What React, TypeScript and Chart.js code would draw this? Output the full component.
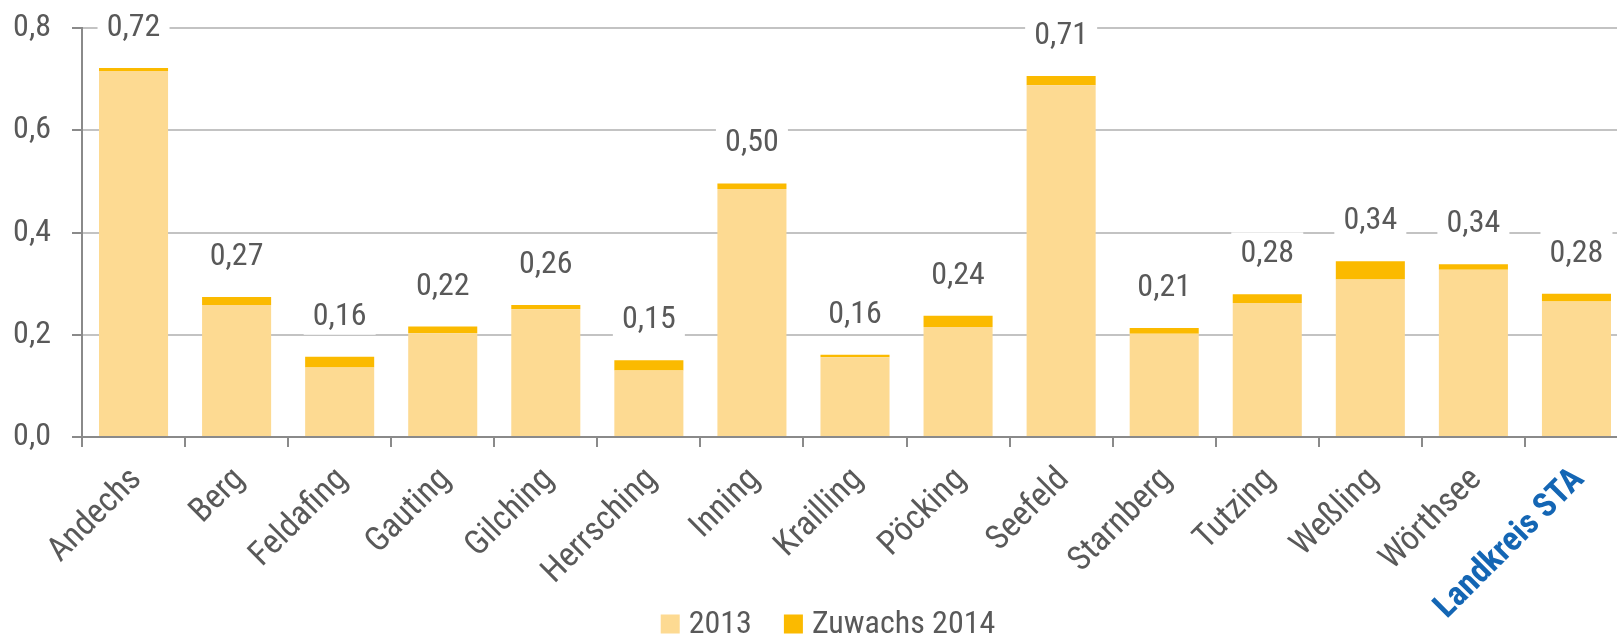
import React, { useEffect, useRef } from "react";
import { Chart, registerables } from "chart.js";

Chart.register(...registerables);

const categories = [
  "Andechs", "Berg", "Feldafing", "Gauting", "Gilching", "Herrsching", "Inning",
  "Krailling", "Pöcking", "Seefeld", "Starnberg", "Tutzing", "Weßling", "Wörthsee", "Landkreis STA",
];
const values2013 = [0.716, 0.258, 0.136, 0.203, 0.25, 0.13, 0.485, 0.156, 0.215, 0.688, 0.202, 0.262, 0.308, 0.327, 0.265];
const zuwachs2014 = [0.006, 0.016, 0.021, 0.013, 0.008, 0.02, 0.011, 0.005, 0.022, 0.018, 0.011, 0.017, 0.036, 0.011, 0.015];
const seriesNames = ["2013", "Zuwachs 2014"];
const yTicks = [0, 0.2, 0.4, 0.6, 0.8];

const FONT = '"Liberation Sans Narrow", "Roboto Condensed", "DejaVu Sans Condensed", "Arial Narrow", sans-serif';
const TEXT = "#595959";
const LIGHT = "#FDDA92";
const DARK = "#FBBA00";
const BLUE = "#1466B4";
const fmt = (v: number, d: number) => v.toFixed(d).replace(".", ",");

const valueLabels = {
  id: "valueLabels",
  afterDatasetsDraw(chart: any) {
    const meta = chart.getDatasetMeta(1);
    const ctx = chart.ctx;
    ctx.save();
    ctx.font = `32px ${FONT}`;
    ctx.textAlign = "center";
    ctx.textBaseline = "alphabetic";
    meta.data.forEach((el: any, i: number) => {
      const total = values2013[i] + zuwachs2014[i];
      const txt = fmt(total, 2);
      const y = el.y - 32;
      ctx.fillStyle = "#ffffff";
      ctx.fillRect(el.x - 36, y - 30, 72, 40);
      ctx.fillStyle = TEXT;
      ctx.fillText(txt, el.x, y);
    });
    ctx.restore();
  },
};

const customLegend = {
  id: "customLegend",
  afterDraw(chart: any) {
    const ctx = chart.ctx;
    ctx.save();
    ctx.font = `32px ${FONT}`;
    ctx.textBaseline = "middle";
    ctx.textAlign = "left";
    const colors = [LIGHT, DARK];
    const box = 19;
    const gapText = 9;
    const gapItem = 32;
    const widths = seriesNames.map((n) => box + gapText + ctx.measureText(n).width);
    const total = widths.reduce((a, b) => a + b, 0) + gapItem * (seriesNames.length - 1);
    let x = 828 - total / 2;
    const cy = 624;
    seriesNames.forEach((n, i) => {
      ctx.fillStyle = colors[i];
      ctx.fillRect(x, cy - box / 2, box, box);
      ctx.fillStyle = TEXT;
      ctx.fillText(n, x + box + gapText, cy + 1);
      x += widths[i] + gapItem;
    });
    ctx.restore();
  },
};

export default function App() {
  const ref = useRef<HTMLCanvasElement | null>(null);
  useEffect(() => {
    if (!ref.current) return;
    const chart = new Chart(ref.current, {
      type: "bar",
      data: {
        labels: categories,
        datasets: [
          {
            label: seriesNames[0],
            data: values2013,
            backgroundColor: LIGHT,
            barPercentage: 0.67,
            categoryPercentage: 1,
          },
          {
            label: seriesNames[1],
            data: zuwachs2014,
            backgroundColor: DARK,
            barPercentage: 0.67,
            categoryPercentage: 1,
          },
        ],
      },
      options: {
        animation: false,
        responsive: false,
        devicePixelRatio: 1,
        layout: { padding: { top: 28, left: 13, right: 12, bottom: 0 } },
        plugins: {
          legend: { display: false },
          tooltip: { enabled: false },
        },
        scales: {
          x: {
            stacked: true,
            border: { color: "#8a8a8a", width: 2 },
            grid: {
              drawOnChartArea: false,
              drawTicks: true,
              tickLength: 10,
              tickColor: "#8a8a8a",
              lineWidth: 2,
            },
            ticks: {
              autoSkip: false,
              minRotation: 45,
              maxRotation: 45,
              padding: 13,
              labelOffset: 3,
              color: (c: any) => (c.index === 14 ? BLUE : TEXT),
              font: (c: any) => ({ family: FONT, size: 34, weight: c.index === 14 ? "bold" : "normal" }),
            },
            afterFit: (s: any) => {
              s.height = 198;
              s.paddingLeft = 0;
              s.paddingRight = 0;
            },
          },
          y: {
            stacked: true,
            min: 0,
            max: 0.8,
            border: { color: "#8a8a8a", width: 2 },
            grid: {
              color: "#c3c3c3",
              lineWidth: 2,
              tickLength: 10,
              tickColor: "#8a8a8a",
            },
            afterBuildTicks: (s: any) => {
              s.ticks = yTicks.map((v) => ({ value: v }));
            },
            ticks: {
              padding: 21,
              color: TEXT,
              font: { family: FONT, size: 32 },
              callback: (v: any) => fmt(Number(v), 1),
            },
            afterFit: (s: any) => {
              s.width = 69;
              s.paddingTop = 0;
              s.paddingBottom = 0;
            },
          },
        },
      },
      plugins: [valueLabels, customLegend],
    });
    return () => chart.destroy();
  }, []);
  return (
    <div style={{ position: "fixed", left: 0, top: 0, width: 1617, height: 635, overflow: "hidden", background: "#fff" }}>
      <canvas ref={ref} width={1640} height={635} style={{ width: 1640, height: 635, display: "block" }} />
    </div>
  );
}
